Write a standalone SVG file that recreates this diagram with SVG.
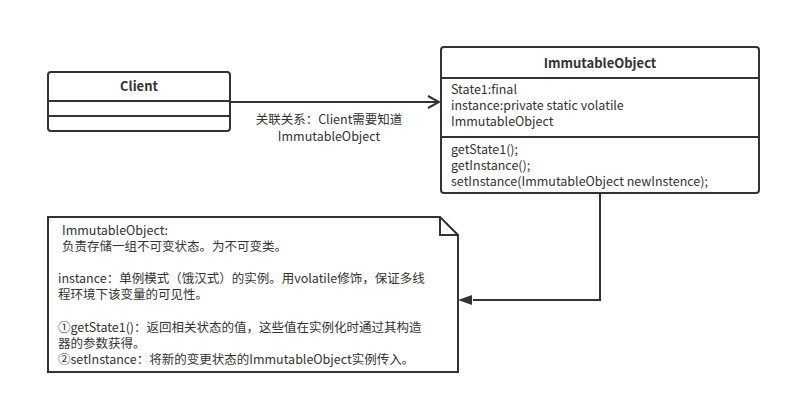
<svg xmlns="http://www.w3.org/2000/svg" width="791" height="402" viewBox="0 0 791 402">
<style>
text{font-family:"Noto Sans CJK SC","Noto Sans",sans-serif;font-size:12.5px;fill:#333}
.b{font-weight:bold;font-size:13px}
.box{fill:#fff;stroke:#333;stroke-width:2}
.ln{stroke:#333;stroke-width:2;fill:none}
</style>
<defs>
<marker id="open" markerWidth="14" markerHeight="14" refX="12" refY="7" orient="auto" markerUnits="userSpaceOnUse"><path d="M1,1 L12,7 L1,13" fill="none" stroke="#333" stroke-width="2"/></marker>
<marker id="fill" markerWidth="16" markerHeight="12" refX="1" refY="6" orient="auto" markerUnits="userSpaceOnUse"><path d="M15,1 L1,6 L15,11 Z" fill="#333"/></marker>
</defs>
<g id="connectors">
<line class="ln" x1="230" y1="102" x2="439" y2="102" marker-end="url(#open)"/>
<text x="329" y="124" text-anchor="middle">关联关系：Client需要知道</text>
<text x="329" y="141" text-anchor="middle">ImmutableObject</text>
<path class="ln" d="M600,193 V300 H473"/>
<path d="M472,295 L458,300 L472,305 Z" fill="#333"/>
</g>
<g id="client">
<rect class="box" x="48" y="72" width="182" height="59" rx="3"/>
<line class="ln" x1="48" y1="101" x2="230" y2="101"/>
<line class="ln" x1="48" y1="116" x2="230" y2="116"/>
<text class="b" x="139" y="91" text-anchor="middle">Client</text>
</g>
<g id="immutable">
<rect class="box" x="441" y="47" width="318" height="146" rx="3"/>
<line class="ln" x1="441" y1="78" x2="759" y2="78"/>
<line class="ln" x1="441" y1="137" x2="759" y2="137"/>
<text class="b" x="600" y="68" text-anchor="middle">ImmutableObject</text>
<text x="451" y="94">State1:final</text>
<text x="451" y="110">instance:private static volatile</text>
<text x="451" y="126">ImmutableObject</text>
<text x="451" y="154">getState1();</text>
<text x="451" y="170">getInstance();</text>
<text x="451" y="186">setInstance(ImmutableObject newInstence);</text>
</g>
<g id="note">
<path class="box" d="M48,217 H440 L458,235 V372 H48 Z"/>
<path class="ln" d="M440,217 V235 H458"/>
<text x="62" y="235">ImmutableObject:</text>
<text x="62" y="251">负责存储一组不可变状态。为不可变类。</text>
<text x="58" y="283">instance：单例模式（饿汉式）的实例。用volatile修饰，保证多线</text>
<text x="58" y="299">程环境下该变量的可见性。</text>
<text x="58" y="332">①getState1()：返回相关状态的值，这些值在实例化时通过其构造</text>
<text x="58" y="348">器的参数获得。</text>
<text x="58" y="364">②setInstance：将新的变更状态的ImmutableObject实例传入。</text>
</g>
</svg>
